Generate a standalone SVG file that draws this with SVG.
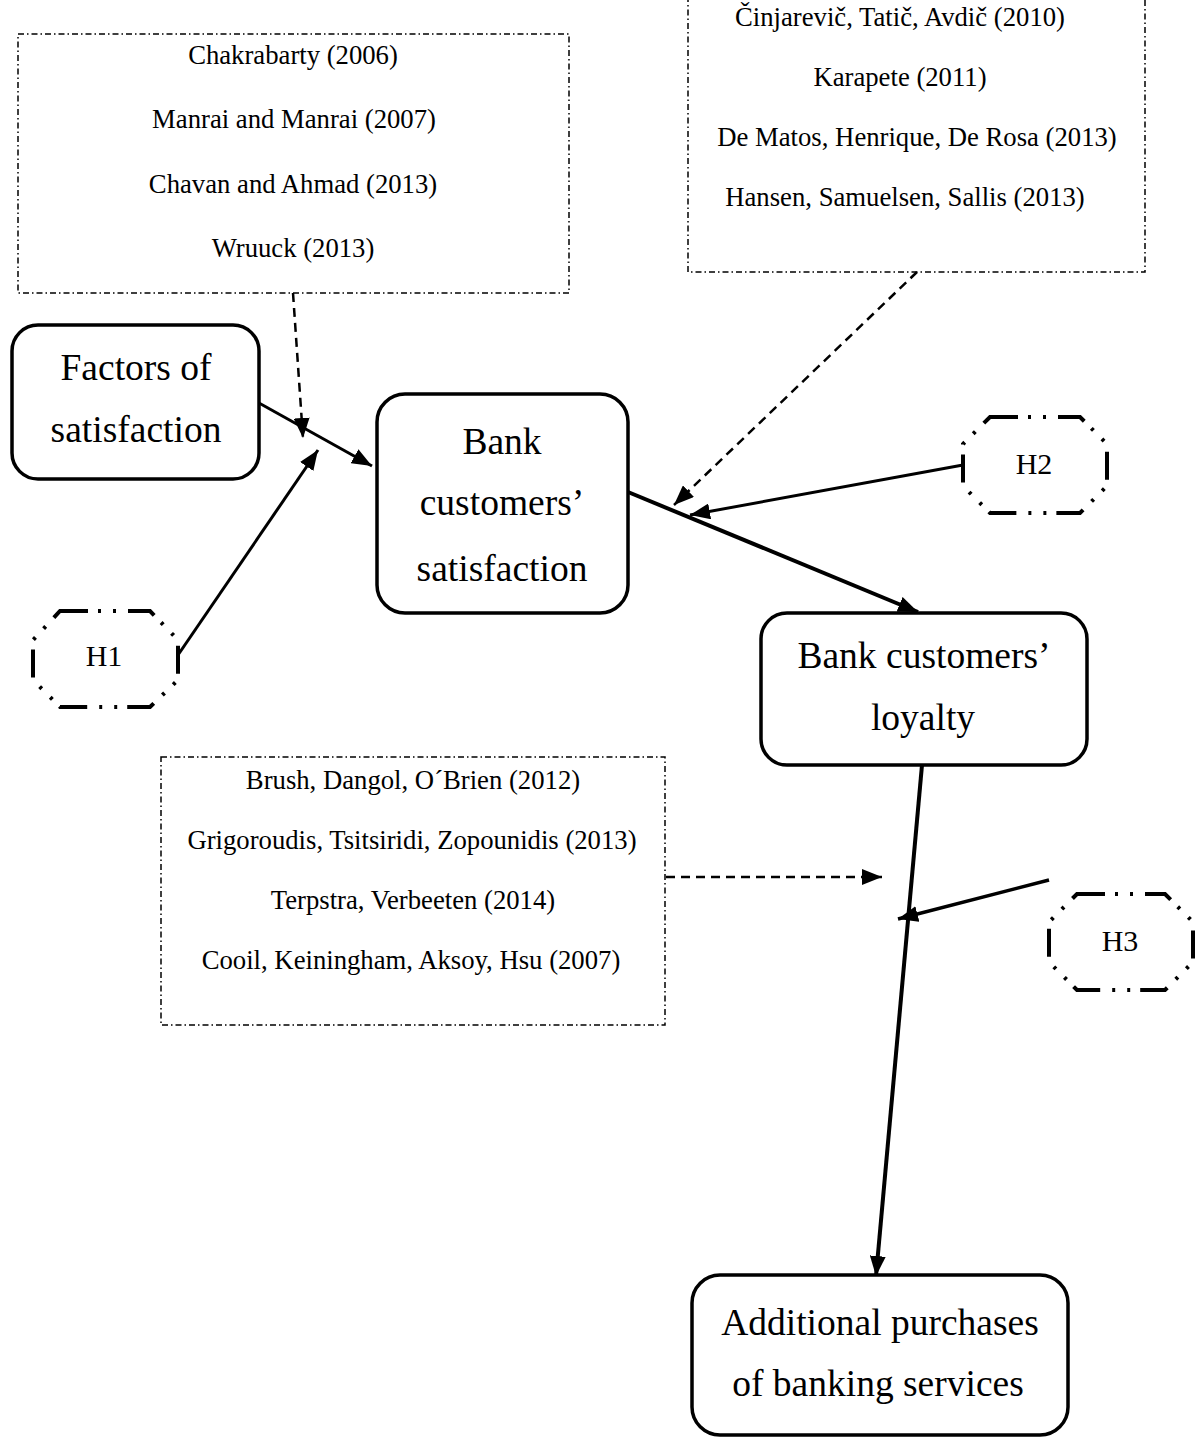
<svg xmlns="http://www.w3.org/2000/svg" width="1195" height="1438" viewBox="0 0 1195 1438">
<style>
  .ref { fill: none; stroke: #000; stroke-width: 1.5; stroke-dasharray: 6 3 1.5 3; }
  .reftext { font-family: "Liberation Serif", "Times New Roman", serif; font-size: 26.7px; fill: #000; text-anchor: middle; }
  .node { fill: #fff; stroke: #000; stroke-width: 3.5; }
  .nodetext { font-family: "Liberation Serif", "Times New Roman", serif; font-size: 37.5px; fill: #000; text-anchor: middle; }
  .hyp { fill: #fff; stroke: #000; stroke-width: 4; stroke-dasharray: 28 10 3 12 3 12; }
  .hyptext { font-family: "Liberation Serif", "Times New Roman", serif; font-size: 30px; fill: #000; text-anchor: middle; }
  .solid { stroke: #000; fill: none; }
  .dashed { stroke: #000; fill: none; stroke-width: 2.5; stroke-dasharray: 9 6; }
</style>
<defs>
  <marker id="head" viewBox="0 0 20 16" refX="20" refY="8" markerWidth="20" markerHeight="16" orient="auto" markerUnits="userSpaceOnUse">
    <path d="M0,0 L20,8 L0,16 Z" fill="#000"/>
  </marker>
</defs>
<rect width="1195" height="1438" fill="#fff"/>

<!-- literature boxes -->
<g id="refs-satisfaction">
  <rect class="ref" x="18" y="34" width="551" height="259"/>
  <text class="reftext" x="293" y="64">Chakrabarty (2006)</text>
  <text class="reftext" x="294" y="128">Manrai and Manrai (2007)</text>
  <text class="reftext" x="293" y="193">Chavan and Ahmad (2013)</text>
  <text class="reftext" x="293" y="257">Wruuck (2013)</text>
</g>
<g id="refs-loyalty">
  <rect class="ref" x="688" y="-2" width="457" height="274"/>
  <text class="reftext" x="900" y="26">Činjarevič, Tatič, Avdič (2010)</text>
  <text class="reftext" x="900" y="86">Karapete (2011)</text>
  <text class="reftext" x="917" y="146">De Matos, Henrique, De Rosa (2013)</text>
  <text class="reftext" x="905" y="206">Hansen, Samuelsen, Sallis (2013)</text>
</g>
<g id="refs-purchases">
  <rect class="ref" x="161" y="757" width="504" height="268"/>
  <text class="reftext" x="413" y="789">Brush, Dangol, O´Brien (2012)</text>
  <text class="reftext" x="412" y="849">Grigoroudis, Tsitsiridi, Zopounidis (2013)</text>
  <text class="reftext" x="413" y="909">Terpstra, Verbeeten (2014)</text>
  <text class="reftext" x="411" y="969">Cooil, Keiningham, Aksoy, Hsu (2007)</text>
</g>

<!-- connectors -->
<g id="connectors">
  <line class="solid" stroke-width="3" x1="259" y1="403" x2="372" y2="466" marker-end="url(#head)"/>
  <line class="dashed" x1="293" y1="293" x2="303" y2="438" marker-end="url(#head)"/>
  <line class="solid" stroke-width="3" x1="178" y1="655" x2="318" y2="450" marker-end="url(#head)"/>
  <line class="solid" stroke-width="4" x1="628" y1="492" x2="918" y2="612" marker-end="url(#head)"/>
  <line class="dashed" x1="917" y1="272" x2="674" y2="505" marker-end="url(#head)"/>
  <line class="solid" stroke-width="3" x1="963" y1="465" x2="690" y2="515" marker-end="url(#head)"/>
  <line class="solid" stroke-width="4" x1="922" y1="765" x2="876" y2="1276" marker-end="url(#head)"/>
  <line class="solid" stroke-width="3.5" x1="1049" y1="880" x2="898" y2="919" marker-end="url(#head)"/>
  <line class="dashed" x1="666" y1="877" x2="882" y2="877" marker-end="url(#head)"/>
</g>

<!-- model constructs -->
<g id="factors">
  <rect class="node" x="12" y="325" width="247" height="154" rx="26"/>
  <text class="nodetext" x="136" y="380">Factors of</text>
  <text class="nodetext" x="136" y="442">satisfaction</text>
</g>
<g id="satisfaction">
  <rect class="node" x="377" y="394" width="251" height="219" rx="28"/>
  <text class="nodetext" x="502" y="454">Bank</text>
  <text class="nodetext" x="502" y="515">customers’</text>
  <text class="nodetext" x="502" y="581">satisfaction</text>
</g>
<g id="loyalty">
  <rect class="node" x="761" y="613" width="326" height="152" rx="26"/>
  <text class="nodetext" x="924" y="668">Bank customers’</text>
  <text class="nodetext" x="923" y="730">loyalty</text>
</g>
<g id="purchases">
  <rect class="node" x="692" y="1275" width="376" height="160" rx="28"/>
  <text class="nodetext" x="880" y="1335">Additional purchases</text>
  <text class="nodetext" x="878" y="1396">of banking services</text>
</g>

<!-- hypotheses -->
<g id="h1">
  <path class="hyp" d="M60,611 L150,611 L178,640 L178,680 L150,707 L60,707 L33,680 L33,640 Z"/>
  <text class="hyptext" x="104" y="666">H1</text>
</g>
<g id="h2">
  <path class="hyp" d="M990,417 L1080,417 L1107,444 L1107,486 L1080,513 L990,513 L963,486 L963,444 Z"/>
  <text class="hyptext" x="1034" y="474">H2</text>
</g>
<g id="h3">
  <path class="hyp" d="M1077,894 L1165,894 L1193,922 L1193,962 L1165,990 L1077,990 L1049,962 L1049,922 Z"/>
  <text class="hyptext" x="1120" y="951">H3</text>
</g>
</svg>
